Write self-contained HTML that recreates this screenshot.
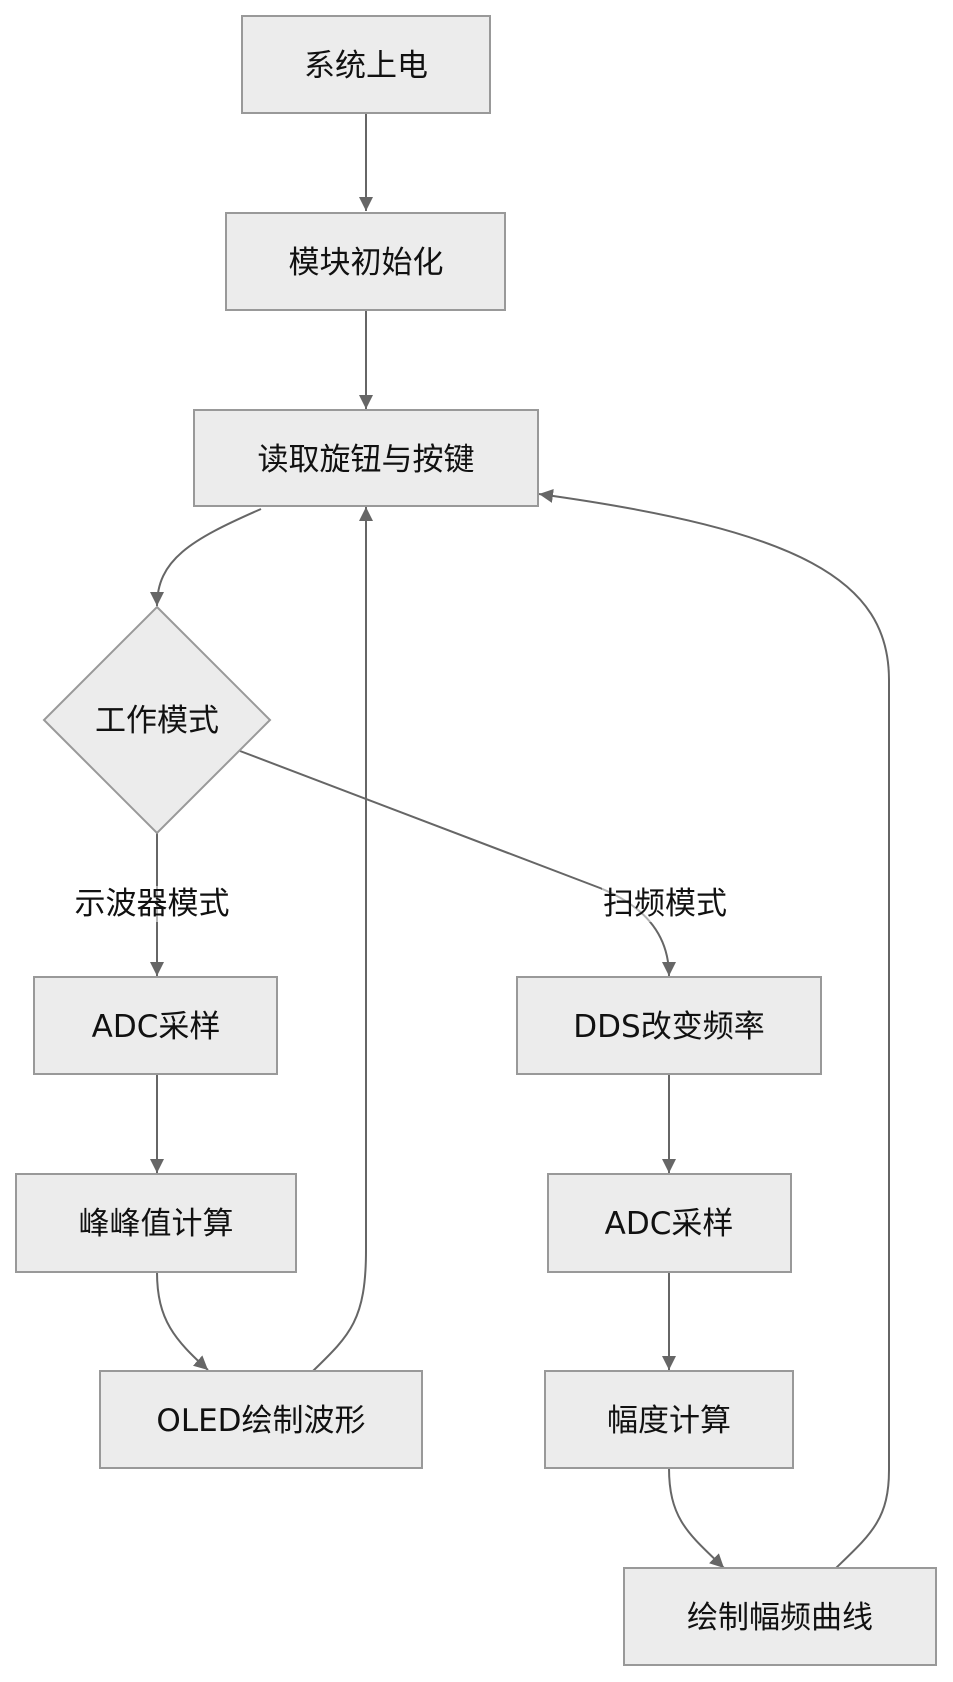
<!DOCTYPE html>
<html><head><meta charset="utf-8"><style>
html,body{margin:0;padding:0;background:#fff;}
svg{display:block;}
text{font-family:"DejaVu Sans","Noto Sans CJK SC",sans-serif;font-size:31px;fill:#111;text-anchor:middle;dominant-baseline:central;}
.n{fill:#ececec;stroke:#999;stroke-width:2;}
.e{fill:none;stroke:#666;stroke-width:2;}
</style></head><body>
<svg width="953" height="1682" viewBox="0 0 953 1682" xmlns="http://www.w3.org/2000/svg">
<defs><marker id="a" viewBox="0 0 12 12" refX="12" refY="6" markerWidth="14" markerHeight="14" markerUnits="userSpaceOnUse" orient="auto"><path d="M0,0 L12,6 L0,12 z" fill="#666"/></marker></defs>
<!-- edges -->
<path class="e" d="M366,113 L366,211" marker-end="url(#a)"/>
<path class="e" d="M366,310 L366,409" marker-end="url(#a)"/>
<path class="e" d="M261,509 C190,540 157,560 157,606" marker-end="url(#a)"/>
<path class="e" d="M157,833 L157,976" marker-end="url(#a)"/>
<path class="e" d="M240,751 L600,888 Q669,916 669,976" marker-end="url(#a)"/>
<path class="e" d="M157,1074 L157,1173" marker-end="url(#a)"/>
<path class="e" d="M157,1272 C157,1320 175,1340 208,1370" marker-end="url(#a)"/>
<path class="e" d="M313,1371 C350,1335 366,1320 366,1250 L366,507" marker-end="url(#a)"/>
<path class="e" d="M669,1074 L669,1173" marker-end="url(#a)"/>
<path class="e" d="M669,1272 L669,1370" marker-end="url(#a)"/>
<path class="e" d="M669,1468 C669,1520 690,1535 724,1568" marker-end="url(#a)"/>
<path class="e" d="M835,1569 C870,1535 889,1520 889,1470 L889,680 C889,580 800,530 539,494" marker-end="url(#a)"/>
<!-- nodes -->
<rect class="n" x="242" y="16" width="248" height="97"/><text x="366" y="66">系统上电</text>
<rect class="n" x="226" y="213" width="279" height="97"/><text x="366" y="263">模块初始化</text>
<rect class="n" x="194" y="410" width="344" height="96"/><text x="366" y="460">读取旋钮与按键</text>
<polygon class="n" points="157,607 270,720 157,833 44,720"/><text x="157" y="721">工作模式</text>
<rect x="72" y="886" width="160" height="36" fill="#fff" opacity="0.5"/><text x="152" y="904">示波器模式</text>
<rect x="602" y="886" width="126" height="36" fill="#fff" opacity="0.5"/><text x="665" y="904">扫频模式</text>
<rect class="n" x="34" y="977" width="243" height="97"/><text x="156" y="1027">ADC采样</text>
<rect class="n" x="16" y="1174" width="280" height="98"/><text x="156" y="1224">峰峰值计算</text>
<rect class="n" x="100" y="1371" width="322" height="97"/><text x="261" y="1421">OLED绘制波形</text>
<rect class="n" x="517" y="977" width="304" height="97"/><text x="669" y="1027">DDS改变频率</text>
<rect class="n" x="548" y="1174" width="243" height="98"/><text x="669" y="1224">ADC采样</text>
<rect class="n" x="545" y="1371" width="248" height="97"/><text x="669" y="1421">幅度计算</text>
<rect class="n" x="624" y="1568" width="312" height="97"/><text x="780" y="1618">绘制幅频曲线</text>
</svg>
</body></html>
